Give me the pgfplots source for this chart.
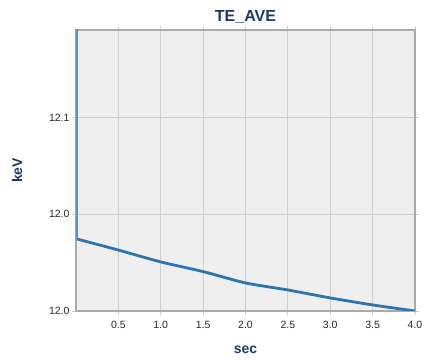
\documentclass[border=0pt]{standalone}
\usepackage{pgfplots}
\pgfplotsset{compat=1.18}
\usepackage{fontspec}
\setmainfont{Liberation Sans}
\definecolor{bgc}{HTML}{EFEFEF}
\definecolor{gridc}{HTML}{CFCFCF}
\definecolor{axc}{HTML}{AAAAAA}
\definecolor{linec}{HTML}{2E75B0}
\definecolor{navy}{HTML}{1C3A63}
\begin{document}
\begin{tikzpicture}
\path[use as bounding box] (0,0) rectangle (442pt,361pt);
\begin{axis}[
  at={(76pt,50pt)}, anchor=south west,
  scale only axis, width=339pt, height=281pt,
  xmin=0, xmax=4, ymin=12.0, ymax=12.1162,
  xtick={0.5,1,1.5,2,2.5,3,3.5,4},
  xticklabels={0.5,1.0,1.5,2.0,2.5,3.0,3.5,4.0},
  ytick={12.0,12.04,12.08},
  yticklabels={12.0,12.0,12.1},
  axis background/.style={fill=bgc},
  grid=major,
  major grid style={gridc, line width=0.8pt},
  axis line style={axc, line width=1.2pt},
  tick align=outside, major tick length=4pt,
  tick style={gridc, line width=0.8pt},
  ticklabel style={font=\fontsize{10.5}{12}\selectfont, text=black!85},
  xticklabel style={yshift=-3pt},
  yticklabel style={xshift=1pt},
  title={\bfseries TE\_AVE},
  title style={font=\fontsize{16}{18}\selectfont, text=navy, yshift=-3pt},
  xlabel={\bfseries sec},
  xlabel style={font=\fontsize{14}{16}\selectfont, text=navy, yshift=-10pt},
  ylabel={\bfseries keV},
  ylabel style={font=\fontsize{14}{16}\selectfont, text=navy, yshift=20pt},
  clip=true,
]
\addplot[linec, line width=2.8pt, line join=round, smooth, tension=0.4] coordinates {
  (0.01,12.0298) (0.5,12.0252) (1.0,12.0203) (1.5,12.0163)
  (2.0,12.0116) (2.5,12.0087) (3.0,12.0054) (3.5,12.0025) (4.0,12.0)
};
\addplot[linec!80, line width=2.8pt] coordinates {(0.01,12.2) (0.01,12.0298)};
\end{axis}
\end{tikzpicture}
\end{document}
